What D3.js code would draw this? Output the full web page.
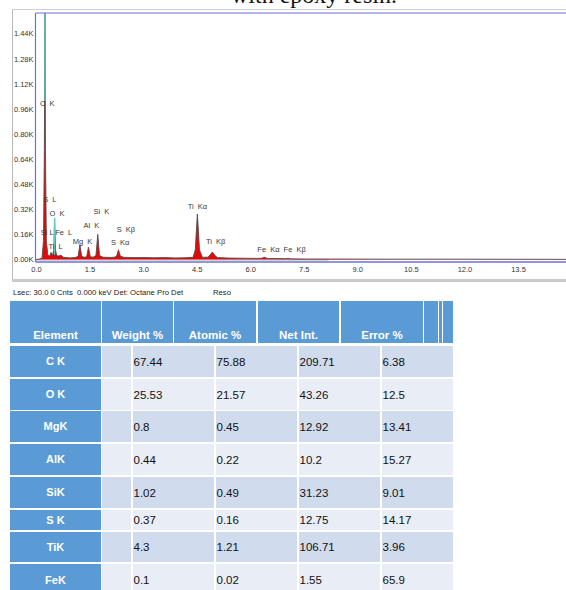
<!DOCTYPE html>
<html>
<head>
<meta charset="utf-8">
<script src="https://cdn.jsdelivr.net/npm/d3@7"></script>
<style>
body{margin:0;background:#fff;}
svg{display:block;}
</style>
</head>
<body>
<svg id="fig"></svg>
<script>
/*
  EDS spectrum + quantification table
*/
// spectrum samples read off the picture : energy (keV) and counts
var specKeV = [0.00,0.10,0.17,0.21,0.235,0.25,0.265,0.29,0.33,0.38,0.42,0.46,0.50,0.52,0.545,0.58,0.64,0.70,0.76,0.84,
               0.95,1.05,1.12,1.18,1.23,1.28,1.35,1.42,1.47,1.52,1.60,1.68,1.73,1.78,1.88,2.00,2.10,2.20,2.26,2.31,
               2.36,2.45,2.60,2.80,3.00,3.30,3.60,3.90,4.20,4.40,4.46,4.52,4.58,4.66,4.82,4.88,4.94,5.00,5.08,5.40,
               5.80,6.20,6.32,6.40,6.48,6.80,7.00,7.06,7.12,7.60,8.20,10.0,12.0,14.9];
var specCnt = [0,3,10,120,700,1700,700,120,30,20,45,25,60,265,60,25,22,28,14,12,
               10,12,14,20,95,20,14,18,78,18,15,25,160,25,14,14,13,15,22,62,
               22,14,13,12,13,11,12,10,11,14,60,290,60,14,15,30,48,28,12,9,
               8,7,8,14,7,6,5,8,4,3,3,2,2,1];

// element marker lines (keV, from counts, to counts)
var markerKeV = [0.25, 0.52];
var markerFrom = [1600, 265];
var markerTo = [1010, 30];

// peak labels (text, keV of left edge, counts of middle)
var peakText = ["C K","S L","O K","Si L","Fe L","Ti L","Mg K","Al K","Si K","S K\u03b2","S K\u03b1","Ti K\u03b1","Ti K\u03b2","Fe K\u03b1 Fe K\u03b2"];
var peakKeV  = [0.11,0.20,0.38,0.13,0.54,0.35,1.03,1.33,1.61,2.26,2.10,4.25,4.76,6.20];
var peakCnt  = [995,385,296,175,175,81,118,219,308,192,107,336,113,65];

var yTicks = [0,160,320,480,640,800,960,1120,1280,1440];
var xTicks = [0,1.5,3,4.5,6,7.5,9,10.5,12,13.5];

// table
var headers = ["Element","Weight %","Atomic %","Net Int.","Error %","","",""];
var elements = ["C K","O K","MgK","AlK","SiK","S K","TiK","FeK"];
var weightPct = [67.44,25.53,0.8,0.44,1.02,0.37,4.3,0.1];
var atomicPct = [75.88,21.57,0.45,0.22,0.49,0.16,1.21,0.02];
var netInt = [209.71,43.26,12.92,10.2,31.23,12.75,106.71,1.55];
var errorPct = [6.38,12.5,13.41,15.27,9.01,14.17,3.96,65.9];

//Canvas setting
var fig = d3.select("#fig");
fig.width = 566; fig.height = 590;
fig.attr("width", fig.width).attr("height", fig.height);

var font = "'Liberation Sans', Arial, sans-serif";

// caption (cut off at the top, as in the source page)
fig.append("text")
   .attr("x", 314).attr("y", 3)
   .attr("text-anchor", "middle")
   .style("font-family", "'Liberation Serif','Times New Roman',serif")
   .style("font-size", "24px")
   .style("fill", "#111")
   .text("with epoxy resin.");

// frame of the spectrum window
fig.append("line").attr("x1", 12.5).attr("x2", 12.5).attr("y1", 9).attr("y2", 280)
   .attr("stroke", "#b8b8b8").attr("stroke-width", 1);
fig.append("line").attr("x1", 12).attr("x2", 566).attr("y1", 9.5).attr("y2", 9.5)
   .attr("stroke", "#cfcfcf").attr("stroke-width", 1);
fig.append("line").attr("x1", 12).attr("x2", 566).attr("y1", 280.5).attr("y2", 280.5)
   .attr("stroke", "#cacaca").attr("stroke-width", 3);

var plot = {left: 35.5, top: 13, right: 570, bottom: 262};

// scales
var xs = d3.scaleLinear().domain([0, 13.5]).range([36, 518]);
var ys = d3.scaleLinear().domain([0, 1440]).range([259.5, 33.5]);

fig.append("clipPath").attr("id", "plotclip")
   .append("rect").attr("x", plot.left).attr("y", plot.top)
   .attr("width", plot.right - plot.left).attr("height", plot.bottom - plot.top);

var spec = fig.append("g").attr("clip-path", "url(#plotclip)");

var pts = specKeV.map(function(k, i){ return [k, specCnt[i]]; });

// baseline trace
spec.append("line")
    .attr("x1", xs(0)).attr("x2", xs(8.2)).attr("y1", ys(0) + 0.5).attr("y2", ys(0) + 0.5)
    .attr("stroke", "#8fb8b0").attr("stroke-width", 1);

var area = d3.area()
    .x(function(d){ return xs(d[0]); })
    .y0(ys(0))
    .y1(function(d){ return ys(d[1]); });
var line = d3.line()
    .x(function(d){ return xs(d[0]); })
    .y(function(d){ return ys(d[1]); });

spec.append("path").datum(pts)
    .attr("d", area)
    .style("fill", "#e10a0a");
spec.append("path").datum(pts)
    .attr("d", line)
    .style("fill", "none")
    .style("stroke", "#5b4747")
    .style("stroke-width", 0.9);

// element markers
spec.selectAll(".marker")
    .data(markerKeV)
    .enter().append("line")
    .attr("class", "marker")
    .attr("x1", function(d){ return xs(d); })
    .attr("x2", function(d){ return xs(d); })
    .attr("y1", function(d, i){ return ys(markerFrom[i]); })
    .attr("y2", function(d, i){ return ys(markerTo[i]); })
    .attr("stroke", "#5fc9bb")
    .attr("stroke-width", 1.3);

// plot border (blue)
fig.append("line").attr("x1", plot.left).attr("x2", plot.left).attr("y1", plot.top).attr("y2", plot.bottom)
   .attr("stroke", "#6f6fd6").attr("stroke-width", 1.2);
fig.append("line").attr("x1", plot.left).attr("x2", 566).attr("y1", plot.top).attr("y2", plot.top)
   .attr("stroke", "#6f6fd6").attr("stroke-width", 1.2);
fig.append("line").attr("x1", plot.left).attr("x2", 566).attr("y1", plot.bottom).attr("y2", plot.bottom)
   .attr("stroke", "#6f6fd6").attr("stroke-width", 1.4);

// axes
var yAxis = fig.append("g")
    .attr("transform", "translate(" + (plot.left - 1) + ",0)")
    .call(d3.axisLeft(ys).tickValues(yTicks).tickSize(0).tickPadding(1)
        .tickFormat(function(d){ return (d / 1000).toFixed(2) + "K"; }));
yAxis.select(".domain").remove();
yAxis.selectAll("text")
     .style("font-family", font).style("font-size", "7.5px").style("fill", "#333");

var xAxis = fig.append("g")
    .attr("transform", "translate(0," + (plot.bottom + 4.5) + ")")
    .call(d3.axisBottom(xs).tickValues(xTicks).tickSize(0).tickPadding(0)
        .tickFormat(d3.format(".1f")));
xAxis.select(".domain").remove();
xAxis.selectAll("text")
     .style("font-family", font).style("font-size", "7.5px").style("fill", "#333");

// peak labels
fig.selectAll(".peakLabel")
   .data(peakText)
   .enter().append("text")
   .attr("class", "peakLabel")
   .attr("x", function(d, i){ return xs(peakKeV[i]); })
   .attr("y", function(d, i){ return ys(peakCnt[i]); })
   .attr("dy", "0.35em")
   .style("font-family", font)
   .style("font-size", "7.5px")
   .style("word-spacing", function(d){ return d === "Si L" ? "0px" : "2px"; })
   .style("fill", "#3a3a3a")
   .text(function(d){ return d; });

// status line
fig.append("text")
   .attr("x", 13).attr("y", 295)
   .style("font-family", font).style("font-size", "7.7px").style("fill", "#222")
   .style("white-space", "pre")
   .text("Lsec: 30.0 0 Cnts  0.000 keV Det: Octane Pro Det");
fig.append("text")
   .attr("x", 213).attr("y", 295)
   .style("font-family", font).style("font-size", "7.7px").style("fill", "#222")
   .text("Reso");

/*
  Table
*/
var hdrBlue = "#5b9bd5",
    rowDark = "#d0dbee",
    rowLight = "#e9edf6";

var hdrTop = 301, hdrBot = 343;
var hdrCols = [[10,101],[102,173],[174,256],[258,339],[341,423],[424,438],[439,442],[443,453]];
var dataCols = [[102,131],[133,214],[216,297],[299,380],[382,453]];
var rowTop = [346,379,411,444,477,510,532,564];
var rowH = [31,31,31,31,31,20,30,32];

var tbl = fig.append("g");

tbl.selectAll(".hdrCell")
   .data(hdrCols)
   .enter().append("rect")
   .attr("class", "hdrCell")
   .attr("x", function(d){ return d[0]; })
   .attr("y", hdrTop)
   .attr("width", function(d){ return d[1] - d[0]; })
   .attr("height", hdrBot - hdrTop)
   .style("fill", hdrBlue);

tbl.selectAll(".hdrText")
   .data(headers)
   .enter().append("text")
   .attr("class", "hdrText")
   .attr("x", function(d, i){ return (hdrCols[i][0] + hdrCols[i][1]) / 2; })
   .attr("y", hdrBot - 4)
   .attr("text-anchor", "middle")
   .style("font-family", font).style("font-size", "11.5px").style("font-weight", "bold")
   .style("fill", "#fff")
   .text(function(d){ return d; });

var rows = tbl.selectAll(".row")
   .data(elements)
   .enter().append("g")
   .attr("class", "row")
   .attr("transform", function(d, i){ return "translate(0," + rowTop[i] + ")"; });

rows.append("rect")
    .attr("x", 10).attr("y", 0)
    .attr("width", 91)
    .attr("height", function(d, i){ return rowH[i]; })
    .style("fill", hdrBlue);

rows.append("text")
    .attr("x", 55.5)
    .attr("y", function(d, i){ return rowH[i] / 2; })
    .attr("dy", "0.35em")
    .attr("text-anchor", "middle")
    .style("font-family", font).style("font-size", "11px").style("font-weight", "bold")
    .style("fill", "#fff")
    .text(function(d){ return d; });

rows.each(function(d, i){
    var g = d3.select(this);
    var cols = [weightPct, atomicPct, netInt, errorPct];
    g.selectAll(".cell")
     .data(dataCols)
     .enter().append("rect")
     .attr("class", "cell")
     .attr("x", function(c){ return c[0]; })
     .attr("y", 0)
     .attr("width", function(c){ return c[1] - c[0]; })
     .attr("height", rowH[i])
     .style("fill", i % 2 === 0 ? rowDark : rowLight);
    g.selectAll(".val")
     .data(cols)
     .enter().append("text")
     .attr("class", "val")
     .attr("x", function(c, j){ return dataCols[j + 1][0] + 0.5; })
     .attr("y", rowH[i] / 2)
     .attr("dy", "0.35em")
     .style("font-family", font).style("font-size", "11.5px")
     .style("fill", "#111")
     .text(function(c){ return String(c[i]); });
});
</script>
</body>
</html>
